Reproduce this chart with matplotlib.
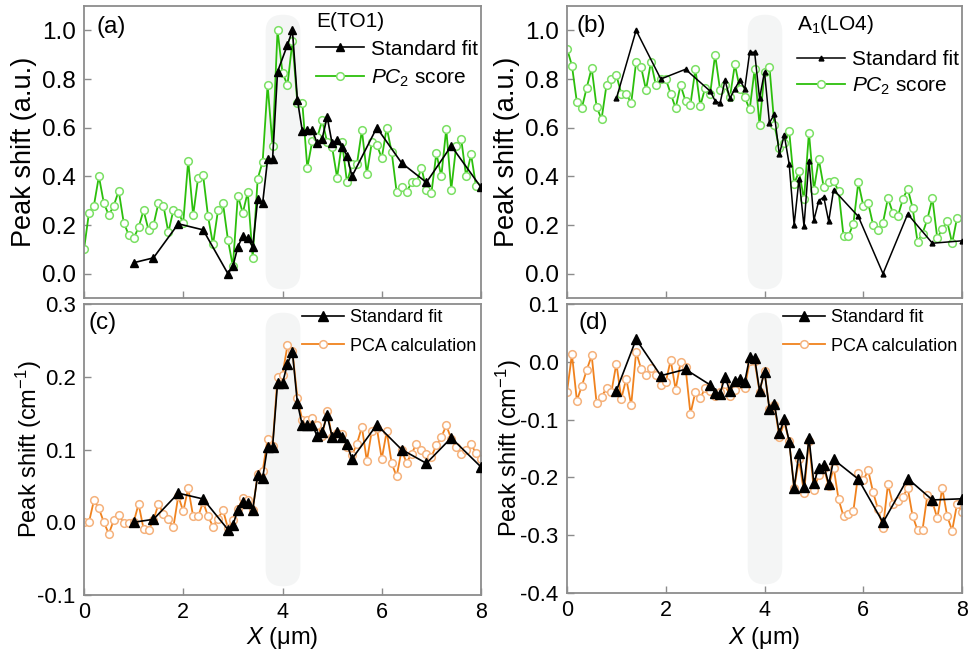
import matplotlib
matplotlib.use("Agg")
import matplotlib.pyplot as plt
from matplotlib.patches import FancyBboxPatch
import numpy as np

plt.rcParams['font.family'] = ['Liberation Sans', 'DejaVu Sans']
plt.rcParams['mathtext.fontset'] = 'custom'
plt.rcParams['mathtext.rm'] = 'Liberation Sans'
plt.rcParams['mathtext.it'] = 'Liberation Sans:italic'
plt.rcParams['mathtext.bf'] = 'Liberation Sans:bold'

# ---------------- data ----------------
x_pca = [round(0.1 * i, 1) for i in range(80)]          # 0.0 ... 7.9
x_pca_c = [round(0.1 * i, 1) for i in range(81)]        # 0.0 ... 8.0

x_fit = [1.0, 1.4, 1.9, 2.4, 2.9, 3.0, 3.1, 3.2, 3.3, 3.4, 3.5, 3.6, 3.7, 3.8, 3.9,
         4.0, 4.1, 4.2, 4.3, 4.4, 4.5, 4.6, 4.7, 4.8, 4.9, 5.0, 5.1, 5.2, 5.3, 5.4,
         5.9, 6.4, 6.9, 7.4, 8.0]
x_fit_a = [1.0, 1.4, 1.9, 2.4, 2.9, 3.0, 3.1, 3.2, 3.3, 3.4, 3.5, 3.6, 3.7, 3.8, 3.9,
           4.1, 4.2, 4.3, 4.4, 4.5, 4.6, 4.7, 4.8, 4.9, 5.0, 5.1, 5.2, 5.3, 5.4,
           5.9, 6.4, 6.9, 7.4, 8.0]

# (a) E(TO1)
pc2_a = [0.10, 0.25, 0.28, 0.40, 0.29, 0.24, 0.28, 0.34, 0.21, 0.16,
         0.145, 0.19, 0.26, 0.18, 0.20, 0.29, 0.28, 0.17, 0.26, 0.25,
         0.21, 0.465, 0.24, 0.395, 0.405, 0.235, 0.12, 0.26, 0.29, 0.14,
         0.03, 0.32, 0.25, 0.335, 0.065, 0.39, 0.46, 0.775, 0.525, 1.00,
         0.825, 0.775, 0.955, 0.70, 0.70, 0.435, 0.545, 0.56, 0.63, 0.54,
         0.52, 0.395, 0.54, 0.375, 0.45, 0.45, 0.59, 0.41, 0.54, 0.53,
         0.475, 0.60, 0.50, 0.335, 0.355, 0.335, 0.375, 0.375, 0.435, 0.345,
         0.33, 0.495, 0.40, 0.595, 0.345, 0.525, 0.555, 0.40, 0.49, 0.36]
fit_a = [0.045, 0.065, 0.205, 0.18, 0.0, 0.03, 0.11, 0.155, 0.145, 0.11,
         0.305, 0.29, 0.47, 0.47, 0.83, 0.94, 1.00, 0.715, 0.585, 0.59,
         0.59, 0.535, 0.555, 0.645, 0.535, 0.55, 0.52, 0.485, 0.40,
         0.60, 0.455, 0.375, 0.525, 0.355]

# (b) A1(LO4)
pc2_b = [0.925, 0.855, 0.705, 0.68, 0.765, 0.845, 0.685, 0.635, 0.775, 0.80,
         0.815, 0.74, 0.74, 0.70, 0.87, 0.85, 0.755, 0.87, 0.775, 0.80,
         0.80, 0.74, 0.68, 0.775, 0.71, 0.695, 0.84, 0.69, 0.765, 0.74,
         0.90, 0.755, 0.775, 0.725, 0.86, 0.76, 0.725, 0.675, 0.84, 0.61,
         0.83, 0.85, 0.61, 0.515, 0.535, 0.585, 0.37, 0.42, 0.305, 0.58,
         0.345, 0.47, 0.355, 0.375, 0.38, 0.34, 0.155, 0.155, 0.205, 0.375,
         0.28, 0.29, 0.20, 0.18, 0.21, 0.31, 0.25, 0.235, 0.305, 0.35,
         0.27, 0.13, 0.165, 0.225, 0.31, 0.145, 0.185, 0.215, 0.125, 0.23]
fit_b = [0.72, 1.00, 0.80, 0.84, 0.75, 0.71, 0.70, 0.795, 0.72, 0.76,
         0.795, 0.76, 0.91, 0.91, 0.72, 0.83, 0.62, 0.655, 0.49, 0.57,
         0.45, 0.20, 0.39, 0.195, 0.465, 0.22, 0.30, 0.315, 0.215, 0.345,
         0.235, 0.0, 0.245, 0.125, 0.135]

# (c) E(TO1) in cm-1
pca_c = [0.0, 0.0, 0.03, 0.019, 0.0, -0.016, 0.003, 0.01, -0.001, -0.001,
         0.0, 0.025, -0.009, -0.011, 0.003, 0.025, 0.012, 0.004, -0.007, 0.036,
         0.015, 0.047, 0.008, 0.008, 0.028, 0.008, -0.006, 0.005, 0.017, -0.008,
         0.003, 0.018, 0.033, 0.03, 0.017, 0.066, 0.07, 0.115, 0.105, 0.20,
         0.203, 0.243, 0.235, 0.171, 0.14, 0.14, 0.143, 0.133, 0.119, 0.153,
         0.117, 0.122, 0.121, 0.104, 0.092, 0.108, 0.131, 0.084, 0.126, 0.13,
         0.087, 0.125, 0.081, 0.063, 0.099, 0.082, 0.094, 0.108, 0.10, 0.094,
         0.09, 0.106, 0.117, 0.133, 0.115, 0.103, 0.094, 0.10, 0.107, 0.095,
         0.087]
fit_c = [0.0, 0.004, 0.04, 0.032, -0.01, -0.004, 0.017, 0.028, 0.026, 0.017,
         0.065, 0.061, 0.104, 0.104, 0.191, 0.191, 0.218, 0.234, 0.164, 0.133,
         0.133, 0.134, 0.118, 0.124, 0.147, 0.117, 0.124, 0.117, 0.107, 0.087,
         0.134, 0.10, 0.081, 0.116, 0.076]

# (d) A1(LO4) in cm-1
pca_d = [-0.052, 0.013, -0.067, -0.042, -0.014, 0.011, -0.072, -0.061, -0.045, -0.052,
         -0.003, -0.064, -0.029, -0.075, 0.017, -0.012, -0.022, -0.01, -0.022, -0.041,
         -0.035, 0.003, -0.048, -0.001, -0.009, -0.09, -0.052, -0.063, -0.045, -0.051,
         -0.059, -0.053, -0.039, -0.059, -0.048, -0.039, -0.045, 0.001, 0.001, -0.052,
         -0.016, -0.082, -0.074, -0.13, -0.105, -0.137, -0.219, -0.169, -0.227, -0.137,
         -0.222, -0.195, -0.183, -0.215, -0.183, -0.238, -0.267, -0.263, -0.258, -0.193,
         -0.205, -0.188, -0.226, -0.255, -0.287, -0.212, -0.246, -0.24, -0.234, -0.218,
         -0.267, -0.291, -0.291, -0.23, -0.242, -0.271, -0.219, -0.267, -0.292, -0.246,
         -0.26]
fit_d = [-0.05, 0.039, -0.024, -0.013, -0.04, -0.054, -0.055, -0.026, -0.051, -0.033,
         -0.029, -0.035, 0.008, 0.007, -0.05, -0.017, -0.082, -0.073, -0.124, -0.099,
         -0.138, -0.218, -0.157, -0.216, -0.131, -0.21, -0.183, -0.178, -0.212, -0.169,
         -0.203, -0.278, -0.202, -0.239, -0.237]

top_ticks = [0.0, 0.2, 0.4, 0.6, 0.8, 1.0]
c_ticks = [-0.1, 0.0, 0.1, 0.2, 0.3]
d_ticks = [-0.4, -0.3, -0.2, -0.1, 0.0, 0.1]
x_ticks = [0, 2, 4, 6, 8]

# ---------------- figure ----------------
W, H = 969, 654
fig = plt.figure(figsize=(W / 100, H / 100), dpi=100)


def add_ax(l, r, t, b, z=0):
    ax = fig.add_axes([l / W, 1 - b / H, (r - l) / W, (b - t) / H])
    ax.set_zorder(z)
    return ax


ax_a = add_ax(84, 481, 6, 298, 0)
ax_b = add_ax(567, 962, 6, 298, 0)
ax_c = add_ax(84, 481, 304, 595, 1)
ax_d = add_ax(567, 962, 304, 593, 1)

GREEN = '#2cbf0c'
GREEN_M = '#7be064'
ORANGE = '#f0821e'
ORANGE_M = '#f5b27c'
SPINE = '#8c8c8c'
BAND = '#f4f5f5'


def px2ax(ax, xp, yp):
    pos = ax.get_position()
    return ((xp - pos.x0 * W) / (pos.width * W),
            1 - (yp - (1 - pos.y1) * H) / (pos.height * H))


def style(ax, ylim, yticks, fmt, ytick_fs, xtick_fs, show_x):
    ax.set_xlim(0, 8)
    ax.set_ylim(*ylim)
    ax.set_xticks(x_ticks)
    ax.set_yticks(yticks)
    ax.set_yticklabels([fmt.format(v) for v in yticks])
    for s in ax.spines.values():
        s.set_color(SPINE)
        s.set_linewidth(1.3)
    ax.tick_params(direction='in', length=5, width=1, color=SPINE,
                   pad=6, top=False, right=False)
    ax.tick_params(axis='y', labelsize=ytick_fs)
    ax.tick_params(axis='x', labelsize=xtick_fs, pad=5)
    if not show_x:
        ax.tick_params(labelbottom=False)
    # rounded shaded band around the interface
    px_w = ax.get_position().width * W
    px_h = ax.get_position().height * H
    r = 17.0 / px_w
    asp = (17.0 / px_h) / r
    x0 = 3.66 / 8
    band = FancyBboxPatch((x0, 0.03), 0.70 / 8, 0.94,
                          boxstyle=f"round,pad=0,rounding_size={r}",
                          mutation_aspect=asp, transform=ax.transAxes,
                          facecolor=BAND, edgecolor='none', zorder=0)
    ax.add_patch(band)


style(ax_a, (-0.1, 1.1), top_ticks, '{:.1f}', 17.5, 15.5, False)
style(ax_b, (-0.1, 1.1), top_ticks, '{:.1f}', 17.5, 15.5, False)
style(ax_c, (-0.1, 0.3), c_ticks, '{:.1f}', 16, 15.5, True)
style(ax_d, (-0.4, 0.1), d_ticks, '{:.1f}', 16, 15.5, True)

# (a)
ax_a.plot(x_pca, pc2_a, '-', color=GREEN, lw=1.3, marker='o', ms=5.5,
          mfc='white', mec=GREEN_M, mew=1.1, zorder=2, label=r'$\mathit{PC}_\mathrm{2}$ score')
ax_a.plot(x_fit_a, fit_a, '-', color='black', lw=1.2, marker='^', ms=5.5,
          zorder=3, label='Standard fit')
# (b)
ax_b.plot(x_pca, pc2_b, '-', color=GREEN, lw=1.3, marker='o', ms=5.5,
          mfc='white', mec=GREEN_M, mew=1.1, zorder=2, label=r'$\mathit{PC}_\mathrm{2}$ score')
ax_b.plot(x_fit, fit_b, '-', color='black', lw=1.1, marker='^', ms=3.5,
          zorder=3, label='Standard fit')
# (c)
ax_c.plot(x_pca_c, pca_c, '-', color=ORANGE, lw=1.3, marker='o', ms=5.5,
          mfc='white', mec=ORANGE_M, mew=1.1, zorder=2, label='PCA calculation')
ax_c.plot(x_fit, fit_c, '-', color='black', lw=1.2, marker='^', ms=6.5,
          zorder=3, label='Standard fit')
# (d)
ax_d.plot(x_pca_c, pca_d, '-', color=ORANGE, lw=1.3, marker='o', ms=5.5,
          mfc='white', mec=ORANGE_M, mew=1.1, zorder=2, label='PCA calculation')
ax_d.plot(x_fit, fit_d, '-', color='black', lw=1.2, marker='^', ms=6.5,
          zorder=3, label='Standard fit')


def legend(ax, title, fs, anchor_px, spacing):
    h, l = ax.get_legend_handles_labels()
    leg = ax.legend(h[::-1], l[::-1], title=title, loc='upper left',
                    bbox_to_anchor=px2ax(ax, *anchor_px), frameon=False, fontsize=fs,
                    title_fontsize=fs, handlelength=2.3, handletextpad=0.35,
                    borderpad=0, borderaxespad=0, labelspacing=spacing,
                    alignment='left')
    return leg


legend(ax_a, 'E(TO1)', 15, (316, 12), 0.42)
legend(ax_b, None, 15, (797, 50), 0.30)
bx, by = px2ax(ax_b, 797, 25)
ax_b.text(bx, by, r'A$_\mathrm{1}$(LO4)', transform=ax_b.transAxes,
          fontsize=15, ha='left', va='center')
legend(ax_c, None, 13, (302, 309), 0.65)
legend(ax_d, None, 13, (783, 309), 0.65)

# panel letters
for ax, lab, xp, yp in [(ax_a, '(a)', 96, 27), (ax_b, '(b)', 577, 26),
                        (ax_c, '(c)', 88, 323), (ax_d, '(d)', 578, 323)]:
    tx, ty = px2ax(ax, xp, yp)
    ax.text(tx, ty, lab, transform=ax.transAxes, fontsize=17.5, ha='left', va='center')

# axis labels
ax_a.set_ylabel('Peak shift (a.u.)', fontsize=19.5, va='center')
ax_b.set_ylabel('Peak shift (a.u.)', fontsize=19.5, va='center')
ax_c.set_ylabel(r'Peak shift (cm$^{\mathrm{-1}}$)', fontsize=17, va='center')
ax_d.set_ylabel(r'Peak shift (cm$^{\mathrm{-1}}$)', fontsize=17, va='center')
ax_a.yaxis.set_label_coords(-60 / 397, 0.5)
ax_b.yaxis.set_label_coords(-60 / 395, 0.5)
ax_c.yaxis.set_label_coords(-55 / 397, 0.5)
ax_d.yaxis.set_label_coords(-58 / 395, 0.5)

ax_c.set_xlabel(r'$X$ ($\mathrm{\mu}$m)', fontsize=17, va='center')
ax_d.set_xlabel(r'$X$ ($\mathrm{\mu}$m)', fontsize=17, va='center')
ax_c.xaxis.set_label_coords(0.5, -43 / 291)
ax_d.xaxis.set_label_coords(0.5, -45 / 289)

fig.savefig('out.png', dpi=100)
